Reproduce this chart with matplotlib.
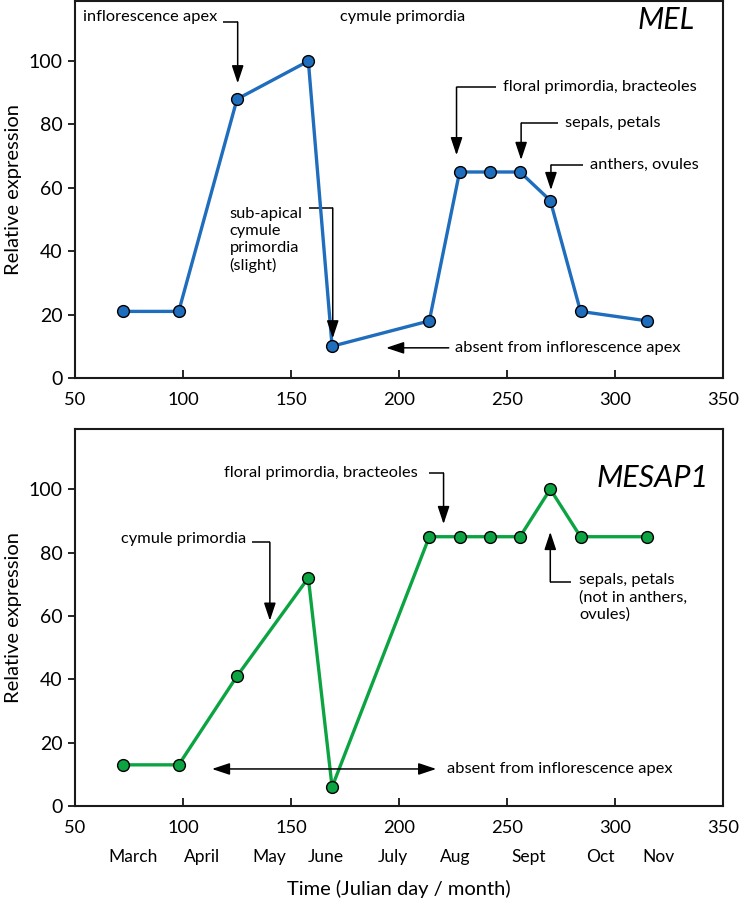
import numpy as np
import matplotlib.pyplot as plt

plt.rcParams['font.family'] = ['Lato', 'DejaVu Sans']

# Julian day of sampling
days = [72, 98, 125, 158, 169, 214, 228, 242, 256, 270, 284, 315]
mel = [21, 21, 88, 100, 10, 18, 65, 65, 65, 56, 21, 18]
mesap1 = [13, 13, 41, 72, 6, 85, 85, 85, 85, 100, 85, 85]

months = ["March", "April", "May", "June", "July", "Aug", "Sept", "Oct", "Nov"]
month_pos = [77, 109, 140, 166, 197, 226, 260, 293, 320]

x_ticks = [50, 100, 150, 200, 250, 300, 350]
y_ticks = [0, 20, 40, 60, 80, 100]

BLUE = '#1f6dbd'
GREEN = '#0ca443'
FS_TXT = 11.8
HEAD = '-|>,head_length=0.9,head_width=0.3'


def style_axes(ax):
    ax.set_xlim(50, 350)
    ax.set_ylim(0, 119)
    ax.set_xticks(x_ticks)
    ax.set_yticks(y_ticks)
    ax.tick_params(axis='x', direction='in', length=6, width=1.2, labelsize=13.2, pad=10)
    ax.tick_params(axis='y', direction='out', length=5, width=1.2, labelsize=14, pad=4)
    for s in ax.spines.values():
        s.set_linewidth(1.5)
        s.set_color('#1a1a1a')
    ax.set_ylabel("Relative expression", fontsize=14.5, labelpad=5)


def elbow(ax, x0, y0, x1, ytip):
    # horizontal lead line, then arrow to the tip
    ax.plot([x0, x1], [y0, y0], color='black', lw=1.1, solid_capstyle='butt')
    ax.annotate('', xy=(x1, ytip), xytext=(x1, y0),
                arrowprops=dict(arrowstyle=HEAD, color='black', lw=1.1,
                                shrinkA=0, shrinkB=0, mutation_scale=12))


fig = plt.figure(figsize=(7.39, 9.02), dpi=100)
ax1 = fig.add_axes([0.1015, 0.581, 0.877, 0.418])
ax2 = fig.add_axes([0.1015, 0.1064, 0.877, 0.418])

# top panel: MEL
ax1.plot(days, mel, color=BLUE, lw=2.4, marker='o', ms=8.5,
         mfc=BLUE, mec='black', mew=1.0, zorder=3)
style_axes(ax1)
ax1.text(337, 113, "MEL", fontsize=22, style='italic', ha='right', va='center')

ax1.text(53.7, 114, "inflorescence apex", fontsize=FS_TXT, va='center')
elbow(ax1, 118.5, 112.3, 125.3, 93)
ax1.text(172.5, 114, "cymule primordia", fontsize=FS_TXT, va='center')
ax1.text(121.5, 53.8, "sub-apical\ncymule\nprimordia\n(slight)", fontsize=FS_TXT,
         va='top', linespacing=1.25)
elbow(ax1, 158.5, 53.6, 169.3, 12.5)
ax1.text(225.7, 9.5, "absent from inflorescence apex", fontsize=FS_TXT, va='center')
ax1.annotate('', xy=(194, 9.5), xytext=(223, 9.5),
             arrowprops=dict(arrowstyle=HEAD, color='black', lw=1.1,
                             shrinkA=0, shrinkB=0, mutation_scale=12))
ax1.text(248.3, 91.8, "floral primordia, bracteoles", fontsize=FS_TXT, va='center')
elbow(ax1, 245, 91.8, 226.6, 70.3)
ax1.text(277, 80.4, "sepals, petals", fontsize=FS_TXT, va='center')
elbow(ax1, 273.5, 80.4, 256.5, 68.8)
ax1.text(288.5, 67.2, "anthers, ovules", fontsize=FS_TXT, va='center')
elbow(ax1, 285, 67.2, 270.3, 59.3)

# bottom panel: MESAP1
ax2.plot(days, mesap1, color=GREEN, lw=2.4, marker='o', ms=8.5,
         mfc=GREEN, mec='black', mew=1.0, zorder=3)
style_axes(ax2)
ax2.text(343.5, 103.5, "MESAP1", fontsize=22, style='italic', ha='right', va='center')

ax2.text(119, 105, "floral primordia, bracteoles", fontsize=FS_TXT, va='center')
elbow(ax2, 214, 105, 220.6, 89)
ax2.text(71.3, 84.2, "cymule primordia", fontsize=FS_TXT, va='center')
elbow(ax2, 131.8, 83.2, 140.2, 58.5)
ax2.annotate('', xy=(113.4, 11.7), xytext=(217.2, 11.7),
             arrowprops=dict(arrowstyle='<|-|>,head_length=0.9,head_width=0.3',
                             color='black', lw=1.1, shrinkA=0, shrinkB=0,
                             mutation_scale=12))
ax2.text(222.4, 11.7, "absent from inflorescence apex", fontsize=FS_TXT, va='center')
ax2.text(283.5, 73.5, "sepals, petals\n(not in anthers,\novules)", fontsize=FS_TXT,
         va='top', linespacing=1.25)
elbow(ax2, 279.6, 70.8, 270, 86.5)

for m, xp in zip(months, month_pos):
    ax2.text(xp, -16, m, fontsize=12.5, ha='center', va='center', clip_on=False)
ax2.set_xlabel("Time (Julian day / month)", fontsize=14.5, labelpad=32)

fig.savefig("out.png", dpi=100)
